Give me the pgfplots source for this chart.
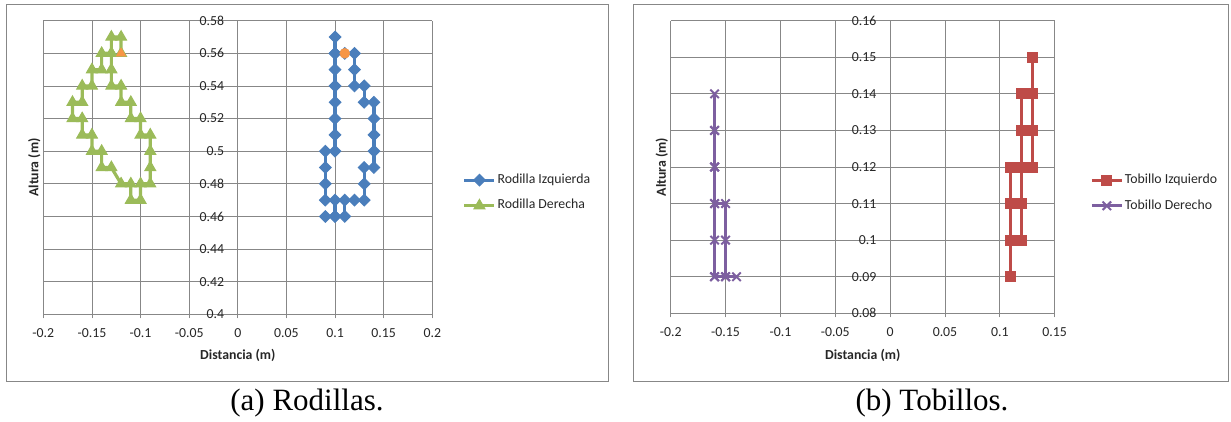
\documentclass[border=0pt]{standalone}
\usepackage{pgfplots}
\pgfplotsset{compat=1.18}
\usepackage{fontspec}
\setmainfont{Carlito}
\newfontfamily\capfont{Liberation Serif}
\definecolor{cblue}{HTML}{4A7EBB}
\definecolor{cgreen}{HTML}{9BBB59}
\definecolor{cred}{HTML}{BE4B48}
\definecolor{cpurple}{HTML}{7D5FA0}
\definecolor{corange}{HTML}{F79646}
\definecolor{cgrid}{HTML}{878787}
\pgfplotsset{
 excel/.style={
  scale only axis,
  axis x line*=bottom, axis y line*=center,
  hide obscured x ticks=false, hide obscured y ticks=false,
  grid=major, major grid style={cgrid, line width=0.8pt},
  axis line style={cgrid, line width=0.8pt},
  tick style={cgrid, line width=0.8pt},
  tick align=outside, major tick length=4pt,
  tick label style={font=\fontsize{13.8}{16}\selectfont, text=black!85},
  label style={font=\fontsize{13.8}{16}\selectfont\bfseries, text=black!85},
  /pgf/number format/assume math mode=true,
  xticklabel style={anchor=north, inner sep=0pt},
  yticklabel style={anchor=east, inner sep=0pt},
  clip=false,
  legend style={draw=none, fill=none, inner sep=0pt, anchor=west,
    font=\fontsize{13.8}{16}\selectfont, text=black!85,
    nodes={inner sep=0pt, text height=9.5pt, text depth=3pt},
    row sep=13pt,
    /tikz/every odd column/.append style={column sep=1.5pt}},
  legend cell align=left,
  legend image code/.code={\draw[mark repeat=2,mark phase=2] plot coordinates {(0pt,0pt) (15pt,0pt) (30pt,0pt)};},
 }
}
\begin{document}
\begin{tikzpicture}
\useasboundingbox (0,0) rectangle (1231pt,421pt);
\draw[cgrid, line width=1pt] (6.5pt,40pt) rectangle (608pt,416pt);
\draw[cgrid, line width=1pt] (633pt,40pt) rectangle (1228pt,416pt);
% ---------------- (a) Rodillas
\begin{axis}[excel,
  at={(43.3pt,106.7pt)}, anchor=south west,
  width=389pt, height=293.6pt,
  xmin=-0.2, xmax=0.2, ymin=0.4, ymax=0.58,
  xtick={-0.2,-0.15,-0.1,-0.05,0,0.05,0.1,0.15,0.2},
  xticklabels={-0.2,-0.15,-0.1,-0.05,0,0.05,0.1,0.15,0.2},
  ytick={0.4,0.42,0.44,0.46,0.48,0.5,0.52,0.54,0.56,0.58},
  yticklabels={0.4,0.42,0.44,0.46,0.48,0.5,0.52,0.54,0.56,0.58},
  xticklabel style={yshift=-10pt},
  yticklabel style={xshift=-9.5pt},
  xlabel={Distancia (m)}, ylabel={Altura (m)},
  xlabel style={at={(axis description cs:0.5,0)}, anchor=center, yshift=-40.7pt},
  ylabel style={at={(axis description cs:0,0.5)}, anchor=center, yshift=9pt},
  legend style={at={(axis description cs:1.078,0.4135)}},
]
\addplot[cblue, line width=3.2pt, mark=square*, mark size=4.1pt, mark options={solid, rotate=45, line width=1pt}] coordinates {
(0.10,0.57) (0.10,0.56) (0.11,0.56) (0.12,0.56) (0.12,0.55) (0.12,0.54) (0.13,0.54) (0.13,0.53)
(0.14,0.53) (0.14,0.52) (0.14,0.51) (0.14,0.50) (0.14,0.49) (0.13,0.49) (0.13,0.48) (0.13,0.47)
(0.12,0.47) (0.11,0.47) (0.11,0.46) (0.10,0.46) (0.09,0.46) (0.10,0.46) (0.10,0.47) (0.09,0.47)
(0.09,0.48) (0.09,0.49) (0.09,0.50) (0.10,0.50) (0.10,0.51) (0.10,0.52) (0.10,0.53) (0.10,0.54)
(0.10,0.55) (0.10,0.56) };
\addlegendentry{Rodilla Izquierda}
\addplot[cgreen, line width=3.2pt, mark=triangle*, mark size=6.3pt, mark options={solid, line width=1pt}] coordinates {
(-0.12,0.56) (-0.12,0.57) (-0.13,0.57) (-0.13,0.56) (-0.14,0.56) (-0.14,0.55) (-0.15,0.55) (-0.15,0.54)
(-0.16,0.54) (-0.16,0.53) (-0.17,0.53) (-0.17,0.52) (-0.16,0.52) (-0.16,0.51) (-0.15,0.51) (-0.15,0.50)
(-0.14,0.50) (-0.14,0.49) (-0.13,0.49) (-0.12,0.48) (-0.11,0.48) (-0.11,0.47) (-0.10,0.47) (-0.10,0.48)
(-0.09,0.48) (-0.09,0.49) (-0.09,0.50) (-0.09,0.51) (-0.10,0.51) (-0.10,0.52) (-0.11,0.52) (-0.11,0.53)
(-0.12,0.53) (-0.12,0.54) (-0.13,0.54) (-0.13,0.55) (-0.13,0.56) };
\addlegendentry{Rodilla Derecha}
\addplot[forget plot, only marks, corange, mark=*, mark size=5pt] coordinates {(0.11,0.56)};
\addplot[forget plot, only marks, corange, mark=triangle*, mark size=5.5pt] coordinates {(-0.12,0.56)};
\end{axis}
% ---------------- (b) Tobillos
\begin{axis}[excel,
  at={(670.7pt,107.7pt)}, anchor=south west,
  width=384pt, height=292.6pt,
  xmin=-0.2, xmax=0.15, ymin=0.08, ymax=0.16,
  xtick={-0.2,-0.15,-0.1,-0.05,0,0.05,0.1,0.15},
  xticklabels={-0.2,-0.15,-0.1,-0.05,0,0.05,0.1,0.15},
  ytick={0.08,0.09,0.1,0.11,0.12,0.13,0.14,0.15,0.16},
  yticklabels={0.08,0.09,0.1,0.11,0.12,0.13,0.14,0.15,0.16},
  xticklabel style={yshift=-10pt},
  yticklabel style={xshift=-9.5pt},
  xlabel={Distancia (m)}, ylabel={Altura (m)},
  xlabel style={at={(axis description cs:0.5,0)}, anchor=center, yshift=-41.7pt},
  ylabel style={at={(axis description cs:0,0.5)}, anchor=center, yshift=9pt},
  legend style={at={(axis description cs:1.092,0.4111)}},
]
\addplot[cred, line width=3.2pt, mark=square*, mark size=5pt, mark options={solid, line width=1pt}] coordinates {
(0.11,0.09) (0.11,0.10) (0.11,0.11) (0.11,0.12) (0.12,0.12) (0.13,0.12) (0.13,0.13) (0.13,0.14)
(0.13,0.15) (0.13,0.14) (0.12,0.14) (0.12,0.13) (0.12,0.12) (0.12,0.11) (0.12,0.10) (0.11,0.10) };
\addlegendentry{Tobillo Izquierdo}
\addplot[cpurple, line width=3.2pt, mark=x, mark size=6pt, mark options={solid, line width=2pt}] coordinates {
(-0.16,0.09) (-0.15,0.09) (-0.14,0.09) (-0.15,0.09) (-0.15,0.10) (-0.15,0.11) (-0.16,0.11) (-0.16,0.12)
(-0.16,0.13) (-0.16,0.14) (-0.16,0.13) (-0.16,0.12) (-0.16,0.11) (-0.16,0.10) (-0.16,0.09) };
\addlegendentry{Tobillo Derecho}
\end{axis}
\node[font=\capfont\fontsize{31}{36}\selectfont, anchor=base] at (307pt,11pt) {(a) Rodillas.};
\node[font=\capfont\fontsize{31}{36}\selectfont, anchor=base] at (932pt,11pt) {(b) Tobillos.};
\end{tikzpicture}
\end{document}
